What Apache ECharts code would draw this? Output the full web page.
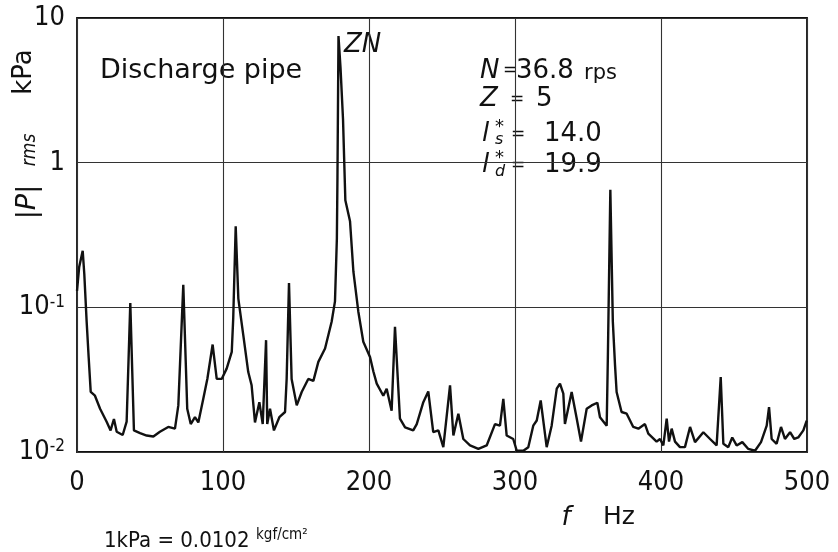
<!DOCTYPE html>
<html><head><meta charset="utf-8">
<script src="https://cdn.jsdelivr.net/npm/echarts@6/dist/echarts.min.js"></script>
<style>html,body{margin:0;padding:0;background:#fff}#c{width:838px;height:552px}</style>
</head><body><div id="c"></div>
<script>
// ---- data ----
const freqHz = [0,1.5,3.9,5,6.6,8,9.4,12.3,15.8,20.3,23,25.3,27.2,31.3,34,36.5,39,43.2,47.7,52.3,56.8,62.5,67.1,69.4,72.8,75.5,77.9,80.8,83.1,86.5,89.3,92.9,95.7,99.1,102.5,106,107,108.7,110.5,113.9,117.3,119.6,121.9,124.9,127.2,129.5,130.3,132.2,134.9,138.6,142.5,143.6,145.2,147,150.5,153.9,158.4,161.9,165.3,169.9,174.4,176.7,178,178.4,179.1,180.5,182.2,183.8,187,189.3,192.7,196.1,200.7,203,205.3,209.8,212.1,215.5,217.8,221.2,224.7,230.3,232.7,237.2,240.6,244,247.5,250.9,255.5,257.8,261.2,264.6,269.2,274.9,280.6,286.3,289.7,292,294.3,298.8,301.2,305.7,309.1,312.5,314.9,317.6,321.7,325.1,328.6,330.8,333.1,334.2,338.8,342.3,345.2,349.1,352.5,356.4,358.2,362.8,363.6,365.3,367,368.5,369.6,373,376.5,381,384.5,389,391.3,397,399.3,401.6,403.9,405.5,407.3,409.6,413,416.4,419.9,423.3,429,433.6,438.1,440.9,442.7,446.1,448.8,451.8,455.7,459.8,464.4,468.5,472.4,474,475.8,479.2,482.2,484.9,488.4,491.3,494,497.5,499.8];
const pressureKPa = [0.13,0.19,0.246,0.17,0.08,0.045,0.026,0.0245,0.0199,0.0162,0.0141,0.0169,0.0138,0.0131,0.0162,0.107,0.0141,0.0135,0.013,0.0128,0.0138,0.0149,0.0145,0.021,0.143,0.0199,0.0156,0.0174,0.016,0.0233,0.0321,0.0553,0.032,0.032,0.0377,0.0492,0.0839,0.363,0.115,0.0643,0.0357,0.0289,0.016,0.0221,0.0156,0.0593,0.0156,0.0199,0.0141,0.0174,0.0189,0.032,0.147,0.032,0.021,0.026,0.032,0.031,0.042,0.0519,0.0795,0.11,0.3,0.8,7.5,4.5,2.0,0.55,0.394,0.177,0.0933,0.0578,0.0454,0.036,0.0297,0.0245,0.0274,0.0193,0.0734,0.017,0.0148,0.0141,0.0156,0.0221,0.0262,0.0137,0.0141,0.0108,0.0289,0.013,0.0184,0.0123,0.0111,0.0105,0.0111,0.0156,0.0152,0.0233,0.013,0.0123,0.0102,0.0102,0.0108,0.0152,0.0165,0.0227,0.0108,0.0152,0.0274,0.0297,0.0253,0.0156,0.026,0.017,0.0118,0.0199,0.021,0.0219,0.0174,0.0152,0.045,0.65,0.08,0.04,0.026,0.0189,0.0184,0.0149,0.0145,0.0156,0.0134,0.0118,0.0123,0.0111,0.017,0.0118,0.0145,0.0118,0.0108,0.0108,0.0149,0.0117,0.0137,0.0123,0.0111,0.033,0.0114,0.0108,0.0126,0.0111,0.0117,0.0105,0.0102,0.0117,0.0152,0.0204,0.0123,0.0114,0.0149,0.0123,0.0137,0.0123,0.0126,0.0141,0.0165];
const xTickValues = [0,100,200,300,400,500];
const yTickLabels = {'1':'10', '0':'1', '-1':'10{sup|-1}', '-2':'10{sup|-2}'};

// ---- chart ----
const NARROW = '"Liberation Sans Narrow","DejaVu Sans Condensed","Liberation Sans",sans-serif';
const SANS = '"DejaVu Sans","Liberation Sans",sans-serif';
const chart = echarts.init(document.getElementById('c'), null, {renderer:'canvas'});

function txt(text, x, y, size, opts) {
  opts = opts || {};
  return {
    type: 'text', x: x, y: y, rotation: opts.rot || 0, silent: true,
    style: {
      text: text, fill: '#111',
      font: (opts.italic ? 'italic ' : '') + size + 'px ' + (opts.family || SANS),
      align: opts.align || 'left', verticalAlign: 'middle',
      rich: opts.rich
    }
  };
}

const seriesData = freqHz.map((f, i) => [f, pressureKPa[i]]);

chart.setOption({
  animation: false,
  backgroundColor: '#fff',
  grid: {left: 77, right: 31, top: 18, bottom: 100, show: true, borderColor: '#111', borderWidth: 1.8},
  xAxis: {
    type: 'value', min: 0, max: 500, interval: 100,
    axisLine: {show: false}, axisTick: {show: false},
    splitLine: {show: true, lineStyle: {color: '#333', width: 1.1}},
    axisLabel: {
      color: '#111', fontSize: 27, fontFamily: NARROW, margin: 17,
      customValues: xTickValues,
      formatter: v => String(v)
    }
  },
  yAxis: {
    type: 'log', logBase: 10, min: 0.01, max: 10,
    axisLine: {show: false}, axisTick: {show: false},
    splitLine: {show: true, lineStyle: {color: '#333', width: 1.1}},
    minorSplitLine: {show: false},
    axisLabel: {
      color: '#111', fontSize: 27, fontFamily: NARROW, margin: 12,
      formatter: v => yTickLabels[String(Math.round(Math.log10(v)))] || '',
      rich: {sup: {fontSize: 17, fontFamily: NARROW, color: '#111', verticalAlign: 'top'}}
    }
  },
  series: [{
    type: 'line', data: seriesData, showSymbol: false, symbol: 'none',
    lineStyle: {color: '#111', width: 2.4}, clip: true
  }],
  graphic: [
    // y axis title (rotated)
    txt('|{i|P}|', 28, 202, 27, {rot: Math.PI/2, align: 'center', rich: {i: {fontStyle: 'italic', fontSize: 27, fontFamily: SANS}}}),
    txt('rms', 30, 150, 19, {rot: Math.PI/2, align: 'center', italic: true, family: NARROW}),
    txt('kPa', 24, 72, 26, {rot: Math.PI/2, align: 'center'}),
    // labels in plot
    txt('Discharge pipe', 100, 71, 27),
    txt('ZN', 344, 45, 26, {italic: true}),
    txt('N', 480, 71, 26, {italic: true}),
    txt('=', 503, 71, 17),
    txt('36.8', 516, 71, 26),
    txt('rps', 584, 74, 21),
    txt('Z', 480, 99, 26, {italic: true}),
    txt('=', 510, 100, 17),
    txt('5', 536, 99, 26),
    txt('l', 482, 134, 26, {italic: true}),
    txt('*', 495, 127, 18),
    txt('s', 495, 140, 16, {italic: true}),
    txt('=', 511, 135, 17),
    txt('14.0', 544, 134, 26),
    txt('l', 482, 165, 26, {italic: true}),
    txt('*', 495, 158, 18),
    txt('d', 495, 172, 16, {italic: true}),
    txt('=', 511, 166, 17),
    txt('19.9', 544, 165, 26),
    // x axis title
    txt('f', 566, 518, 26, {italic: true, align: 'center'}),
    txt('Hz', 619, 517, 25, {align: 'center'}),
    // footnote
    txt('1kPa = 0.0102', 104, 541, 22, {family: NARROW}),
    txt('kgf/cm\u00B2', 256, 535, 15, {family: NARROW})
  ]
});
</script>
</body></html>
